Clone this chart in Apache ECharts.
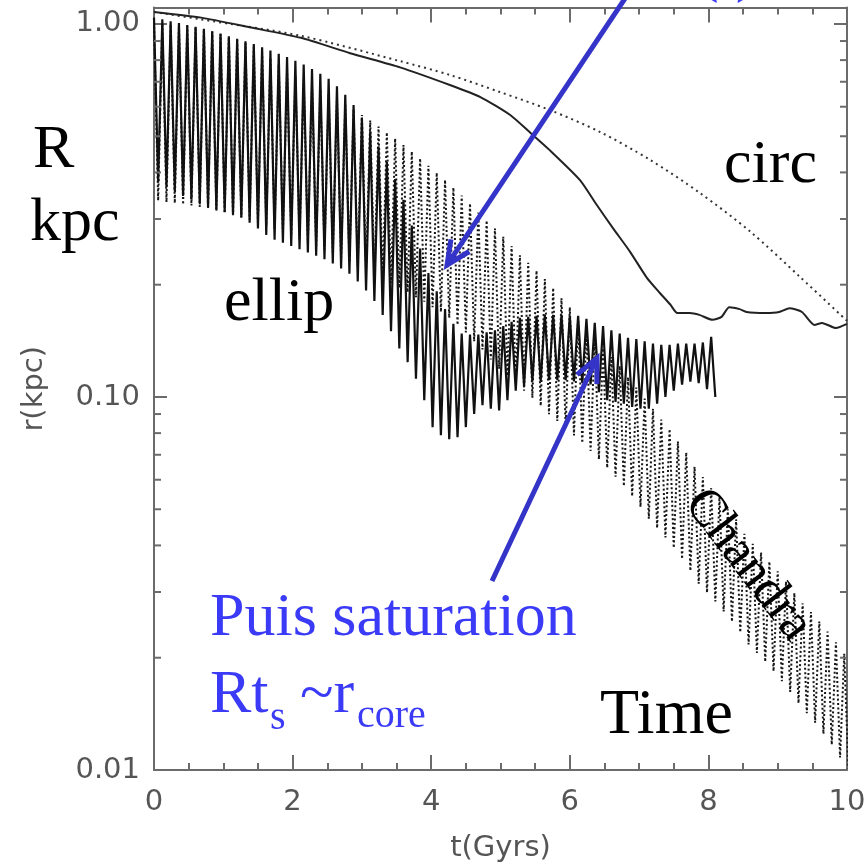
<!DOCTYPE html>
<html><head><meta charset="utf-8">
<script src="https://cdn.jsdelivr.net/npm/echarts@6/dist/echarts.min.js"></script>
<style>html,body{margin:0;padding:0;background:#fff}#c{width:868px;height:865px}</style>
</head><body><div id="c"></div>
<script>
// ---- data ----
const circSolidT = [0, 0.68, 1.40, 2.12, 2.83, 3.55, 4.27, 4.71, 5.14, 5.42, 5.71, 6.15, 6.39, 6.62, 6.87, 7.11, 7.30, 7.45, 7.55, 7.73, 7.87, 8.06, 8.19, 8.30, 8.45, 8.55, 8.83, 9.02, 9.17, 9.35, 9.53, 9.64, 9.84, 10.0];
const circSolidR = [1.077, 1.040, 0.978, 0.918, 0.835, 0.765, 0.686, 0.637, 0.570, 0.513, 0.459, 0.381, 0.327, 0.284, 0.245, 0.209, 0.190, 0.177, 0.168, 0.168, 0.166, 0.161, 0.164, 0.174, 0.172, 0.169, 0.168, 0.169, 0.173, 0.169, 0.156, 0.158, 0.153, 0.157];
const circDottedT = [0, 0.66, 2.11, 3.55, 4.27, 4.99, 5.71, 6.44, 7.16, 7.88, 8.60, 9.32, 10.0];
const circDottedR = [1.077, 1.030, 0.930, 0.795, 0.730, 0.657, 0.588, 0.513, 0.432, 0.352, 0.278, 0.210, 0.160];

// eccentric orbits: apocentre / pericentre values, one per orbit, orbit period in Gyr
const ellipPeriod = 0.12;
const ellipSolidPeaks = [1.04,1.029,1.017,1.006,0.994,0.983,0.970,0.956,0.942,0.927,0.913,0.899,0.884,0.866,0.849,0.832,0.815,0.797,0.779,0.757,0.735,0.713,0.681,0.646,0.606,0.561,0.516,0.470,0.427,0.384,0.338,0.288,0.250,0.215,0.192,0.172,0.157,0.148,0.147,0.147,0.149,0.151,0.155,0.159,0.163,0.164,0.165,0.166,0.166,0.166,0.165,0.165,0.162,0.158,0.155,0.151,0.148,0.144,0.143,0.141,0.139,0.138,0.138,0.139,0.139,0.139,0.140,0.145];
const ellipSolidTroughs = [0.376,0.366,0.356,0.346,0.339,0.331,0.323,0.318,0.313,0.308,0.303,0.293,0.283,0.272,0.264,0.259,0.254,0.249,0.244,0.239,0.234,0.228,0.221,0.214,0.204,0.193,0.181,0.166,0.150,0.135,0.124,0.112,0.098,0.083,0.079,0.077,0.078,0.083,0.090,0.095,0.093,0.092,0.098,0.104,0.107,0.110,0.110,0.111,0.111,0.111,0.110,0.109,0.108,0.103,0.098,0.097,0.096,0.094,0.093,0.093,0.096,0.100,0.104,0.108,0.110,0.109,0.105,0.100];
const ellipDottedPeaks = [1.01,1.004,0.998,0.992,0.986,0.980,0.971,0.954,0.938,0.922,0.905,0.889,0.868,0.839,0.810,0.781,0.752,0.725,0.706,0.687,0.668,0.648,0.629,0.609,0.590,0.570,0.551,0.531,0.512,0.493,0.474,0.455,0.436,0.417,0.399,0.382,0.364,0.347,0.330,0.312,0.297,0.283,0.269,0.254,0.240,0.229,0.218,0.207,0.196,0.184,0.174,0.164,0.154,0.144,0.135,0.128,0.121,0.113,0.106,0.099,0.093,0.087,0.082,0.076,0.071,0.065,0.061,0.057,0.054,0.050,0.047,0.043,0.0404,0.0383,0.0362,0.0341,0.0320,0.0298,0.0280,0.0265,0.0250,0.0235,0.0220,0.0205];
const ellipDottedTroughs = [0.336,0.333,0.331,0.328,0.326,0.323,0.320,0.315,0.311,0.307,0.303,0.299,0.293,0.288,0.282,0.276,0.271,0.265,0.259,0.253,0.248,0.242,0.236,0.230,0.225,0.219,0.213,0.208,0.202,0.196,0.191,0.185,0.180,0.174,0.169,0.163,0.156,0.149,0.141,0.134,0.126,0.119,0.114,0.109,0.104,0.0995,0.0947,0.0899,0.0862,0.0826,0.0789,0.0753,0.0717,0.0681,0.0646,0.0611,0.0577,0.0542,0.0507,0.0472,0.0445,0.0420,0.0394,0.0368,0.0342,0.0316,0.0299,0.0283,0.0266,0.0250,0.0234,0.0217,0.0206,0.0195,0.0184,0.0173,0.0162,0.0151,0.0142,0.0134,0.0125,0.0117,0.0108,0.0101];

const yMinorTicks = [0.02,0.03,0.04,0.05,0.06,0.07,0.08,0.09,0.2,0.3,0.4,0.5,0.6,0.7,0.8,0.9];

// ---- build series data ----
function pairs(ts, rs){ return ts.map((t,i)=>[t, rs[i]]); }
function orbit(peaks, troughs, period){
  const out = [];
  for (let k = 0; k < peaks.length; k++){
    out.push([+(k*period).toFixed(3), peaks[k]]);
    if (k < troughs.length) out.push([+(k*period + period/2).toFixed(3), troughs[k]]);
  }
  return out;
}

const axisColor = '#6b6b6b';
const labelFont = {color:'#555', fontFamily:'DejaVu Sans', fontSize:29};
const blueText = '#3a3af7';
const blueArrow = '#3434c8';
const serif = 'Liberation Serif';

function txt(text, x, baseline, size, color, extra){
  return Object.assign({type:'text', x:x, y:baseline - 0.34*size, z:100,
    style:{text:text, fontSize:size, fontFamily:serif, fill:color||'#000', textAlign:'left', textVerticalAlign:'middle'}}, extra||{});
}
function arrow(tail, tip){
  const dx = tail[0]-tip[0], dy = tail[1]-tip[1];
  const L = Math.hypot(dx,dy), ux = dx/L, uy = dy/L;
  const a = 25*Math.PI/180, len = 26;
  const c = Math.cos(a), s = Math.sin(a);
  const p1 = [tip[0] + len*(ux*c - uy*s), tip[1] + len*(ux*s + uy*c)];
  const p2 = [tip[0] + len*(ux*c + uy*s), tip[1] + len*(-ux*s + uy*c)];
  return [
    {type:'line', z:100, shape:{x1:tail[0], y1:tail[1], x2:tip[0]+ux*2, y2:tip[1]+uy*2}, style:{stroke:blueArrow, lineWidth:5}},
    {type:'polyline', z:100, shape:{points:[p1, tip, p2]}, style:{stroke:blueArrow, lineWidth:5, fill:null, lineJoin:'miter'}}
  ];
}

const chart = echarts.init(document.getElementById('c'), null, {renderer:'canvas'});
const axisCommon = {
  axisLine:{show:true, onZero:false, lineStyle:{color:axisColor, width:2}},
  axisTick:{show:true, inside:true, length:15, lineStyle:{color:axisColor, width:2}},
  splitLine:{show:false}
};
const option = {
  animation:false,
  backgroundColor:'#fff',
  grid:{left:154, right:21, top:7.5, bottom:95, containLabel:false, outerBoundsMode:'none'},
  xAxis:[
    Object.assign({type:'value', min:0, max:10, interval:2, position:'bottom',
      minorTick:{show:true, splitNumber:4, length:7, lineStyle:{color:axisColor, width:2}},
      minorSplitLine:{show:false},
      axisLabel:Object.assign({margin:18}, labelFont),
      name:'t(Gyrs)', nameLocation:'middle', nameGap:64, nameTextStyle:labelFont}, axisCommon),
    Object.assign({type:'value', min:0, max:10, interval:2, position:'top',
      minorTick:{show:true, splitNumber:4, length:7, lineStyle:{color:axisColor, width:2}},
      axisLabel:{show:false}}, axisCommon)
  ],
  yAxis:[
    Object.assign({type:'log', logBase:10, min:0.01, max:1.107, position:'left',
      axisLabel:Object.assign({margin:14, showMaxLabel:false, formatter:v=>v.toFixed(2)}, labelFont),
      name:'r(kpc)', nameLocation:'middle', nameGap:105, nameRotate:90, nameTextStyle:labelFont}, axisCommon,
      {axisTick:{show:true, inside:true, length:13, lineStyle:{color:axisColor, width:2}}}),
    Object.assign({type:'log', logBase:10, min:0.01, max:1.107, position:'right',
      axisLabel:{show:false}}, axisCommon,
      {axisTick:{show:true, inside:true, length:13, lineStyle:{color:axisColor, width:2}}})
  ],
  series:[
    {name:'ellip Chandra', type:'line', data:orbit(ellipDottedPeaks, ellipDottedTroughs, ellipPeriod),
      showSymbol:false, symbol:'none', clip:true, z:2,
      lineStyle:{color:'#161616', width:2, type:[2, 2.4]}},
    {name:'ellip', type:'line', data:orbit(ellipSolidPeaks, ellipSolidTroughs, ellipPeriod),
      showSymbol:false, symbol:'none', clip:true, z:3,
      lineStyle:{color:'#111', width:2.2}},
    {name:'circ Chandra', type:'line', data:pairs(circDottedT, circDottedR), smooth:0.3,
      showSymbol:false, symbol:'none', clip:true, z:4,
      lineStyle:{color:'#333', width:2, type:[2, 4]}},
    {name:'circ', type:'line', data:pairs(circSolidT, circSolidR), smooth:0.2,
      showSymbol:false, symbol:'none', clip:true, z:4,
      lineStyle:{color:'#222', width:2}},
    {name:'minor ticks', type:'custom', coordinateSystem:'cartesian2d', silent:true, clip:false, z:5,
      data:yMinorTicks.map(v=>[0, v]),
      renderItem:function(params, api){
        const v = api.value(1);
        const a = api.coord([0, v]);
        const b = api.coord([10, v]);
        return {type:'group', children:[
          {type:'line', shape:{x1:a[0], y1:a[1], x2:a[0]+7, y2:a[1]}, style:{stroke:axisColor, lineWidth:2}},
          {type:'line', shape:{x1:b[0]-7, y1:b[1], x2:b[0], y2:b[1]}, style:{stroke:axisColor, lineWidth:2}}
        ]};
      }}
  ],
  graphic:[
    txt('R', 33, 172, 62),
    txt('kpc', 30, 245, 62),
    txt('ellip', 224, 325, 62),
    txt('circ', 724, 187, 62),
    txt('Time', 600, 738, 64),
    {type:'text', x:748, y:565, rotation:-52.5*Math.PI/180, z:100,
      style:{text:'Chandra', fontSize:52, fontFamily:serif, fill:'#000', textAlign:'center', textVerticalAlign:'middle'}},
    txt('Puis saturation', 210, 640, 62, blueText),
    txt('Rt', 210, 717, 62, blueText),
    txt('s', 270, 732, 40, blueText),
    txt('~r', 300, 717, 62, blueText),
    txt('core', 357, 730, 40, blueText),
    txt('(t)', 698, -5, 62, blueText)
  ].concat(arrow([628, -6], [447, 265]), arrow([492, 581], [597, 358]))
};
chart.setOption(option);
</script>
</body></html>
